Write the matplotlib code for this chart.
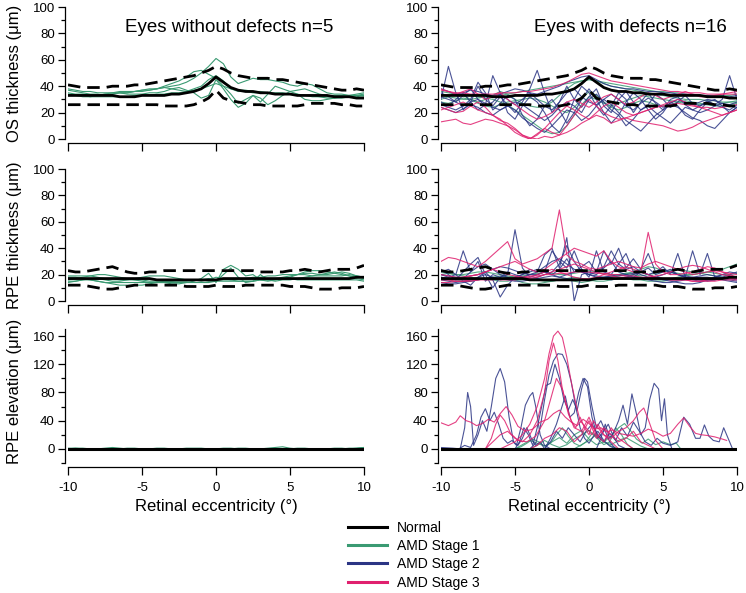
import numpy as np
import matplotlib
matplotlib.use("Agg")
import matplotlib.pyplot as plt
from matplotlib.ticker import MultipleLocator
from matplotlib.lines import Line2D

plt.rcParams['font.family'] = ['Liberation Sans', 'DejaVu Sans']

# eccentricity grid (deg) for the thickness profiles
ecc = np.arange(-10, 10.01, 0.5)

# ---- normal reference (mean and +/- limits) ----
os_norm = [33,33,33,33,33,33,33,32,32,32, 33,33,33,33,34,34,35,36,38,42,
           47,43,39,37,36,36,35,35,34,34, 34,33,33,33,33,33,32,32,32,31, 31]
os_upper = [41,40,39,39,39,39,40,40,40,41, 41,42,43,44,45,46,47,48,50,52,
            55,53,50,48,47,46,46,46,45,45, 44,43,42,41,40,39,38,37,37,38, 37]
os_lower = [26,26,26,26,26,26,26,26,26,26, 26,26,26,25,25,25,25,26,28,31,
            37,31,29,28,27,26,26,25,25,25, 25,25,26,27,27,27,27,26,26,25, 25]

rpe_norm = [17,17,17,17,17,17,17,17,17,17, 17,17,16,16,16,16,16,16,16,16,
            16,17,17,17,17,17,17,17,17,17, 17,17,17,17,17,17,17,17,17,18, 18]
rpe_upper = [23,22,22,23,24,25,26,24,22,21, 21,22,22,23,23,23,23,23,23,23,
             23,23,23,23,23,23,22,22,22,22, 23,23,24,23,22,23,24,24,24,25, 27]
rpe_lower = [12,12,12,11,10,9,9,10,11,12, 12,12,12,12,12,12,11,11,11,11,
             12,11,11,11,12,12,12,12,12,12, 11,11,11,10,9,9,9,10,10,10, 11]

elev_norm = [0]*41

# ---- eyes without defects (AMD stage 1, n=5) ----
os_nodef = [
    [37,36,35,34,34,33,34,35,35,36, 37,38,38,39,40,41,43,46,50,55,
     61,57,47,42,44,46,45,45,44,43, 41,40,42,41,38,35,34,34,33,33, 33],
    [35,34,34,33,33,34,34,35,35,36, 36,37,38,40,42,44,47,51,52,49,
     46,40,34,27,30,33,28,34,40,38, 36,37,38,36,34,33,33,33,33,33, 34],
    [38,37,36,36,35,35,35,36,36,36, 37,37,38,39,38,37,36,38,40,45,
     48,44,38,36,36,35,35,35,34,34, 34,33,33,32,32,31,31,31,32,32, 33],
    [34,33,33,32,33,34,35,35,34,34, 34,35,35,36,38,39,37,35,31,33,
     45,38,30,24,27,33,31,26,29,33, 36,34,30,29,29,30,31,32,32,31, 32],
    [33,33,32,32,32,32,32,32,32,33, 33,33,34,34,35,35,36,37,38,40,
     42,40,38,37,37,36,36,35,35,35, 34,34,33,33,32,32,32,32,33,34, 35],
]
rpe_nodef = [
    [16,17,18,19,20,20,19,18,17,16, 15,14,14,14,13,13,14,15,17,21,
     14,24,27,24,19,20,16,15,16,17, 18,20,22,23,23,22,21,20,19,18, 17],
    [15,15,16,16,15,14,13,12,12,12, 12,13,14,15,15,16,16,16,15,16,
     18,17,16,15,15,15,16,16,17,18, 19,20,21,21,20,20,21,22,21,19, 18],
    [19,19,19,19,18,17,17,16,16,17, 18,19,19,19,18,17,16,16,16,17,
     16,16,16,17,17,18,18,19,19,20, 20,20,20,19,19,19,19,19,20,19, 18],
    [14,15,16,17,17,16,15,15,16,16, 16,15,15,15,15,15,15,16,16,15,
     15,15,15,15,15,15,16,16,16,17, 17,16,16,16,16,16,16,16,16,16, 15],
    [18,18,17,16,15,14,14,14,14,14, 14,14,14,14,14,14,14,14,14,14,
     15,20,25,18,14,15,20,16,15,16, 16,17,18,19,20,21,22,21,19,17, 16],
]
elev_nodef = [
    [0,0,0,0,0,1,2,1,0,0, 0,0,0,0,0,0,0,0,0,0,
     0,0,0,0,0,0,0,1,2,3, 1,0,0,0,0,0,0,0,1,1, 2],
    [0,1,1,0,0,0,0,0,0,0, 0,0,1,1,0,0,0,0,0,0,
     0,0,0,1,1,0,0,0,0,0, 0,0,0,0,0,0,1,1,0,0, 1],
    [1,1,0,0,0,0,0,0,0,0, 0,0,0,0,0,0,1,1,1,0,
     0,0,0,0,0,0,0,0,0,0, 0,1,1,0,0,0,0,0,0,1, 2],
    [0,0,0,0,0,0,0,0,1,1, 0,0,0,0,0,0,0,0,0,0,
     0,1,1,0,0,0,0,0,0,0, 0,0,0,0,0,0,0,0,0,0, 0],
    [0,0,0,0,0,0,0,0,0,0, 0,0,0,0,0,0,0,0,0,0,
     0,0,0,0,0,0,0,0,0,0, 0,0,0,0,0,0,0,0,0,0, 0],
]

# ---- eyes with defects (n=16): stage 1 / 2 / 3 ----
os_st1 = [
    [30,32,35,33,30,28,30,33,36,34, 30,27,25,24,25,28,33,38,42,44,
     45,44,42,40,39,38,37,36,35,34, 33,32,31,30,30,30,29,29,28,28, 28],
    [36,35,34,33,33,32,31,30,28,26, 22,18,14,10,6,4,5,10,18,26,
     32,30,27,25,27,29,31,33,32,31, 30,29,28,27,27,26,26,25,25,26, 27],
    [28,27,29,31,30,27,25,24,26,28, 29,30,31,30,28,25,22,20,24,30,
     36,33,28,24,22,24,27,29,28,26, 25,26,28,29,28,27,26,26,27,28, 29],
    [33,32,31,30,30,31,32,33,33,34, 35,36,37,38,39,40,41,42,43,44,
     45,44,43,42,41,40,39,38,37,36, 36,35,35,34,34,33,33,33,33,33, 34],
]
os_st2 = [
    [30,55,35,22,28,40,30,25,32,26, 20,28,38,52,35,20,28,40,30,24,
     32,38,25,20,30,36,28,22,26,34, 30,24,28,33,27,25,29,26,30,48, 30],
    [35,32,28,25,30,43,35,22,27,33, 30,18,10,15,25,30,22,12,20,30,
     38,30,20,12,18,28,35,30,22,15, 20,28,25,18,15,22,28,30,25,20, 24],
    [28,25,30,35,28,22,26,48,35,20, 15,25,32,28,20,10,5,15,30,40,
     35,25,18,25,35,30,20,28,35,27, 22,30,32,26,22,25,28,26,24,22, 26],
    [32,30,28,33,38,30,25,28,34,30, 26,30,35,30,25,22,28,35,38,32,
     28,26,30,34,30,25,22,27,31,28, 24,27,30,28,26,28,30,29,27,26, 28],
    [26,24,22,25,28,30,27,24,22,25, 28,26,22,18,14,18,24,28,25,20,
     30,34,28,22,18,10,15,22,25,20, 16,12,18,24,22,20,22,25,27,25, 24],
    [38,36,34,35,37,36,34,33,34,36, 38,37,35,34,36,38,40,43,45,47,
     48,45,42,40,39,38,38,37,36,36, 35,35,34,34,33,33,33,32,32,32, 33],
    [24,22,20,23,26,24,20,18,22,25, 22,16,12,8,5,10,16,22,20,14,
     18,25,30,26,20,14,10,6,12,18, 22,26,24,20,16,14,10,8,14,20, 24],
]
os_st3 = [
    [13,14,15,12,11,13,15,14,12,10, 7,3,1,0,2,1,3,5,8,12,
     15,18,16,12,14,16,14,13,12,11, 10,8,6,7,9,12,14,16,18,20, 22],
    [24,22,20,21,25,28,24,18,14,12, 8,3,0,4,8,5,3,10,18,25,
     30,25,20,17,15,16,18,20,22,24, 25,26,27,26,25,24,24,23,24,25, 26],
    [37,36,35,35,34,34,34,34,35,35, 35,36,36,37,38,39,41,43,46,49,
     50,48,46,44,43,42,41,40,39,38, 37,36,36,35,35,35,34,34,34,34, 34],
    [38,36,34,36,38,34,30,32,35,30, 26,22,18,15,17,20,24,28,30,27,
     24,28,32,34,30,26,28,32,35,33, 30,32,34,36,34,32,32,33,34,35, 36],
    [22,24,26,28,25,22,20,18,15,10, 5,2,0,3,8,14,20,25,22,18,
     15,20,25,28,24,20,18,20,22,24, 26,28,30,28,26,24,22,20,18,20, 22],
]

rpe_st1 = [
    [20,21,20,19,18,17,16,16,17,18, 19,18,17,16,15,15,16,17,18,17,
     16,17,18,19,20,21,20,19,20,21, 22,23,24,23,22,21,22,23,24,26, 28],
    [18,17,16,15,15,16,17,18,19,18, 16,14,13,13,14,15,16,16,15,14,
     15,16,17,18,19,20,19,18,17,16, 16,17,18,19,20,21,20,19,18,17, 17],
    [22,21,20,20,21,22,22,21,20,19, 18,19,20,21,22,21,20,20,21,22,
     23,22,21,20,20,21,22,24,26,25, 23,22,21,20,20,21,22,21,20,20, 21],
    [16,16,15,15,16,17,17,16,15,15, 16,16,17,17,16,16,16,17,17,16,
     16,15,15,16,17,17,16,16,15,15, 15,16,16,17,17,16,16,16,17,17, 18],
]
rpe_st2 = [
    [20,18,20,38,22,30,15,20,18,20, 54,25,18,20,22,20,24,32,22,26,
     30,22,38,28,40,25,32,24,36,22, 26,20,36,18,38,20,36,18,20,22, 21],
    [22,24,20,15,12,18,22,16,3,12, 18,20,24,22,35,40,25,48,0,20,
     22,20,25,30,22,20,18,22,25,20, 22,24,20,18,17,16,15,16,18,20, 22],
    [18,17,16,17,22,26,28,24,20,18, 16,18,20,20,22,38,30,25,38,24,
     18,38,22,20,28,36,22,20,18,18, 20,22,20,19,18,17,16,16,17,18, 18],
    [16,15,14,15,16,18,20,18,16,17, 18,20,22,24,22,20,18,20,22,24,
     20,18,17,16,17,18,20,22,20,18, 16,15,14,13,13,14,16,18,17,16, 15],
    [20,19,18,18,19,20,22,24,26,25, 23,21,20,22,26,30,32,28,24,22,
     20,19,18,18,19,20,21,22,20,18, 17,16,16,17,18,19,20,19,18,17, 16],
    [14,13,13,14,15,16,17,18,17,16, 15,15,16,17,18,19,18,17,16,16,
     16,17,18,19,20,19,18,17,16,15, 14,14,15,16,17,18,18,17,16,15, 14],
    [24,20,16,22,28,33,20,10,18,22, 20,18,17,18,20,22,28,42,30,22,
     20,22,26,38,28,24,26,22,20,22, 24,22,20,18,16,15,16,18,20,19, 17],
]
rpe_st3 = [
    [30,33,32,30,28,26,30,35,40,45, 32,28,30,32,36,40,69,35,30,28,
     25,24,26,28,30,28,26,25,28,30, 28,26,24,22,20,21,22,23,22,21, 20],
    [20,19,18,18,19,20,22,24,26,28, 30,27,24,22,24,28,32,36,40,38,
     36,34,38,30,26,24,22,22,52,28, 22,20,20,21,22,24,26,25,22,20, 18],
    [16,16,17,18,19,20,22,24,22,20, 19,18,17,18,20,22,24,26,28,26,
     24,22,20,19,18,18,17,17,18,19, 20,22,24,26,27,26,24,22,20,19, 18],
    [17,16,15,15,16,16,17,17,16,16, 16,17,18,20,22,24,22,20,18,17,
     17,18,20,22,24,26,24,22,20,18, 17,16,16,16,15,15,16,16,17,17, 17],
    [14,14,15,15,15,16,16,16,17,17, 18,18,19,19,20,20,21,21,22,22,
     22,21,21,20,20,19,19,18,18,17, 17,16,16,16,15,15,15,15,16,16, 16],
]

# RPE elevation in defect eyes: (eccentricity points, elevation) read per eye
elev_st1 = [
    ([-10,-5,-4.6,-4.2,-3.8,-3.4,-3,-2.6,-2.2,-1.8,-1.4,-1,-0.6,-0.2,0.2,0.6,1,1.4,1.8,2.2,2.6,3,10],
     [0,0,3,8,14,10,4,8,20,30,18,8,4,10,22,14,6,10,30,20,6,0,0]),
    ([-10,-4,-3.5,-3,-2.5,-2,-1.5,-1,-0.5,0,0.5,1,1.5,2,2.5,3,3.5,4,10],
     [0,0,5,12,6,2,6,14,20,26,18,10,6,12,16,10,4,0,0]),
    ([-10,-5,-4.5,-4,-3.5,-3,-2.5,-2,-1.5,-1,-0.5,0,0.5,1,1.5,2,10],
     [0,0,6,12,8,4,10,16,8,20,26,14,6,10,4,0,0]),
    ([-10,-1,-0.5,0,0.5,1,1.5,2,2.4,2.8,3.2,3.6,4,4.5,5,5.5,5.9,6.2,10],
     [0,0,6,12,20,10,18,30,36,26,14,8,14,6,10,6,8,0,0]),
]
elev_st2 = [
    ([-10,-9.2,-8.7,-8.4,-8.2,-8.0,-7.8,-7.5,-7.2,-6.9,-6.6,-6.3,-6.0,-5.7,-5.4,-5.1,-4.8,-4.5,-4.2,-3.9,-3.6,-3.3,-3.0,-2.5,10],
     [2,1,0,30,80,60,5,20,40,25,60,100,114,95,45,10,5,15,30,15,5,10,0,0,0]),
    ([-10,-4,-3.6,-3.3,-3,-2.7,-2.4,-2.1,-1.8,-1.5,-1.2,-0.9,-0.6,-0.3,0,0.3,0.6,1,1.4,1.8,10],
     [0,0,8,30,70,105,125,135,134,120,95,60,30,15,8,18,25,12,4,0,0]),
    ([-10,-5,-4.7,-4.4,-4.1,-3.8,-3.5,-3.2,-2.9,-2.6,-2.3,-2.0,-1.7,-1.4,-1.1,-0.8,-0.5,-0.3,-0.1,0.2,0.5,0.8,1.1,1.4,1.8,10],
     [0,0,10,30,20,5,30,60,90,93,120,100,70,55,70,55,85,100,95,60,30,40,25,10,0,0]),
    ([-10,0.5,0.8,1.1,1.4,1.7,2.0,2.3,2.6,2.9,3.2,3.5,3.8,4.1,4.4,4.7,4.9,5.1,5.3,5.6,10],
     [0,0,15,35,15,25,40,62,35,78,50,20,30,70,93,85,40,71,20,0,0]),
    ([-10,-8.8,-8.4,-8,-7.6,-7.3,-7.0,-6.7,-6.4,-6.1,-5.8,-5.5,-5.2,-4.9,-4.6,-4.3,-4.0,-3.8,-3.6,-3.3,-3.0,-2.6,10],
     [0,0,5,2,20,45,57,40,52,35,15,8,12,5,30,62,75,80,60,20,5,0,0]),
    ([-10,-3,-2.6,-2.2,-1.8,-1.4,-1,-0.6,-0.2,0.2,0.6,1,1.4,1.8,2.2,2.6,3,3.4,3.8,4.2,4.6,5,5.5,6.0,6.4,6.8,7.2,7.5,7.8,8.1,8.4,8.8,9.1,9.4,9.7,10],
     [0,0,10,25,15,30,20,10,25,35,20,10,22,12,30,18,38,25,10,5,15,8,5,10,45,35,15,15,34,18,12,10,30,15,0,0]),
    ([-10,-3,-2.6,-2.2,-1.9,-1.6,-1.3,-1.0,-0.7,-0.4,-0.1,0.2,0.6,1.0,1.3,1.6,2,2.5,10],
     [0,0,15,35,55,75,45,51,80,100,88,45,15,25,35,20,5,0,0]),
]
elev_st3 = [
    ([-10,-9.5,-9,-8.7,-8.3,-8,-7.6,-7.2,-6.8,-6.4,-6.0,-5.6,-5.2,-4.8,-4.3,-3.8,-3.3,-2.8,-2.4,-2.0,-1.6,-1.2,-0.8,-0.4,0,0.4,0.8,1.2,1.6,2,2.5,3,3.5,4,4.5,5,5.5,6,6.4,6.8,7.2,7.6,8,8.5,9,9.3],
     [37,33,38,47,40,38,33,36,42,38,50,60,48,32,25,28,38,42,50,55,45,38,33,42,36,28,30,24,27,22,20,18,22,28,24,18,22,35,44,32,22,20,19,17,14,12]),
    ([-10,-6,-5.5,-5,-4.5,-4,-3.5,-3,-2.7,-2.4,-2.1,-1.8,-1.5,-1.2,-0.9,-0.6,-0.2,0.2,0.6,1,1.5,2,10],
     [0,0,5,10,20,35,60,100,135,160,167,158,130,95,65,40,30,20,35,20,10,0,0]),
    ([-10,-7,-6.5,-6,-5.5,-5,-4.5,-4,-3.5,-3,-2.7,-2.4,-2.1,-1.8,-1.5,-1.2,-0.9,-0.6,-0.3,0,0.3,0.6,1,1.5,2,2.5,3,3.4,3.7,4,4.5,5,10],
     [0,0,10,20,25,15,10,20,40,80,125,150,125,85,60,40,30,45,30,20,40,30,20,15,25,30,40,52,58,42,12,0,0]),
    ([-10,-7,-6.6,-6.3,-6.0,-5.7,-5.3,-4.8,-4.2,-3.6,-3.0,-2.6,-2.2,-1.8,-1.4,-1,-0.5,0,0.5,1,1.5,2,3,10],
     [0,0,15,35,48,40,22,12,10,18,40,70,100,85,50,30,25,45,20,10,30,15,0,0]),
    ([-10,-4,-3.5,-3,-2.5,-2,-1.5,-1,-0.5,0,0.5,1,1.5,2,2.5,3,3.5,4,4.5,10],
     [0,0,5,15,20,30,25,10,20,40,15,30,20,10,15,25,10,5,0,0]),
]

C_NORM = '#000000'
C_ST1 = '#3a9a72'
C_ST2 = '#2b3584'
C_ST3 = '#e0206e'

W, H = 746, 593
fig = plt.figure(figsize=(W / 100, H / 100), dpi=100)


def make_ax(x0, y_top, y_bot):
    ax = fig.add_axes([x0 / W, 1 - y_bot / H, 296 / W, (y_bot - y_top) / H])
    for s in ('top', 'right'):
        ax.spines[s].set_visible(False)
    ax.spines['left'].set_position(('outward', 2.5))
    ax.spines['bottom'].set_position(('outward', 3))
    ax.spines['left'].set_linewidth(0.9)
    ax.spines['bottom'].set_linewidth(0.9)
    ax.set_xlim(-10, 10)
    ax.xaxis.set_major_locator(MultipleLocator(5))
    ax.tick_params(axis='x', length=6, width=0.9, labelsize=9.5, pad=5)
    ax.tick_params(axis='y', which='major', length=5, width=0.9, labelsize=9.5, pad=2)
    ax.tick_params(axis='y', which='minor', length=3, width=0.9)
    ax.patch.set_alpha(0)
    return ax


rows = [(7, 139), (169, 301), (329, 463)]
cols = [68, 441]
axes = [[make_ax(c, r[0], r[1]) for c in cols] for r in rows]

for j in range(2):
    for i in range(2):
        a = axes[i][j]
        a.set_ylim(0, 100)
        a.yaxis.set_major_locator(MultipleLocator(20))
        a.yaxis.set_minor_locator(MultipleLocator(10))
        a.set_xticklabels([])
    a = axes[2][j]
    a.set_ylim(-20, 170)
    a.spines['left'].set_bounds(-20, 170)
    a.yaxis.set_minor_locator(MultipleLocator(20))
    a.set_yticks([0, 40, 80, 120, 160])
    a.set_xlabel('Retinal eccentricity (°)', fontsize=12, labelpad=3)
    a.set_xticks([-10, -5, 0, 5, 10])
    a.set_xticklabels(['-10', '-5', '0', '5', '10'])

thin = 0.8
# left column: eyes without defects
for y in os_nodef:
    axes[0][0].plot(ecc, y, color=C_ST1, lw=thin)
for y in rpe_nodef:
    axes[1][0].plot(ecc, y, color=C_ST1, lw=thin)
for y in elev_nodef:
    axes[2][0].plot(ecc, y, color=C_ST1, lw=thin)

# right column: eyes with defects
for st, col in ((os_st1, C_ST1), (os_st2, C_ST2), (os_st3, C_ST3)):
    for y in st:
        axes[0][1].plot(ecc, y, color=col, lw=thin, alpha=0.85)
for st, col in ((rpe_st1, C_ST1), (rpe_st2, C_ST2), (rpe_st3, C_ST3)):
    for y in st:
        axes[1][1].plot(ecc, y, color=col, lw=thin, alpha=0.85)
for st, col in ((elev_st1, C_ST1), (elev_st2, C_ST2), (elev_st3, C_ST3)):
    for xs, y in st:
        axes[2][1].plot(xs, y, color=col, lw=thin, alpha=0.85)

# normal mean and limits
dash = (0, (4.5, 2.5))
for j in range(2):
    axes[0][j].plot(ecc, os_norm, color=C_NORM, lw=2)
    axes[0][j].plot(ecc, os_upper, color=C_NORM, lw=2, ls=dash)
    axes[0][j].plot(ecc, os_lower, color=C_NORM, lw=2, ls=dash)
    axes[1][j].plot(ecc, rpe_norm, color=C_NORM, lw=2)
    axes[1][j].plot(ecc, rpe_upper, color=C_NORM, lw=2, ls=dash)
    axes[1][j].plot(ecc, rpe_lower, color=C_NORM, lw=2, ls=dash)
    axes[2][j].plot(ecc, elev_norm, color=C_NORM, lw=2.2)

fig.text(15 / W, 1 - 73 / H, 'OS thickness (μm)', rotation=90, ha='center', va='center', fontsize=12)
fig.text(15 / W, 1 - 235 / H, 'RPE thickness (μm)', rotation=90, ha='center', va='center', fontsize=12)
fig.text(15 / W, 1 - 391 / H, 'RPE elevation (μm)', rotation=90, ha='center', va='center', fontsize=12)

fig.text(229 / W, 1 - 27 / H, 'Eyes without defects n=5', ha='center', va='center', fontsize=13.5)
fig.text(630 / W, 1 - 27 / H, 'Eyes with defects n=16', ha='center', va='center', fontsize=13.5)

handles = [Line2D([], [], color=C_NORM, lw=2.2),
           Line2D([], [], color=C_ST1, lw=2.2),
           Line2D([], [], color=C_ST2, lw=2.2),
           Line2D([], [], color=C_ST3, lw=2.2)]
fig.legend(handles, ['Normal', 'AMD Stage 1', 'AMD Stage 2', 'AMD Stage 3'],
           loc='upper left', bbox_to_anchor=(348 / W, 1 - 521 / H), frameon=False,
           fontsize=10, handlelength=2.8, handletextpad=0.7, labelspacing=0.3,
           borderaxespad=0, borderpad=0)

fig.savefig('out.png', dpi=100)
